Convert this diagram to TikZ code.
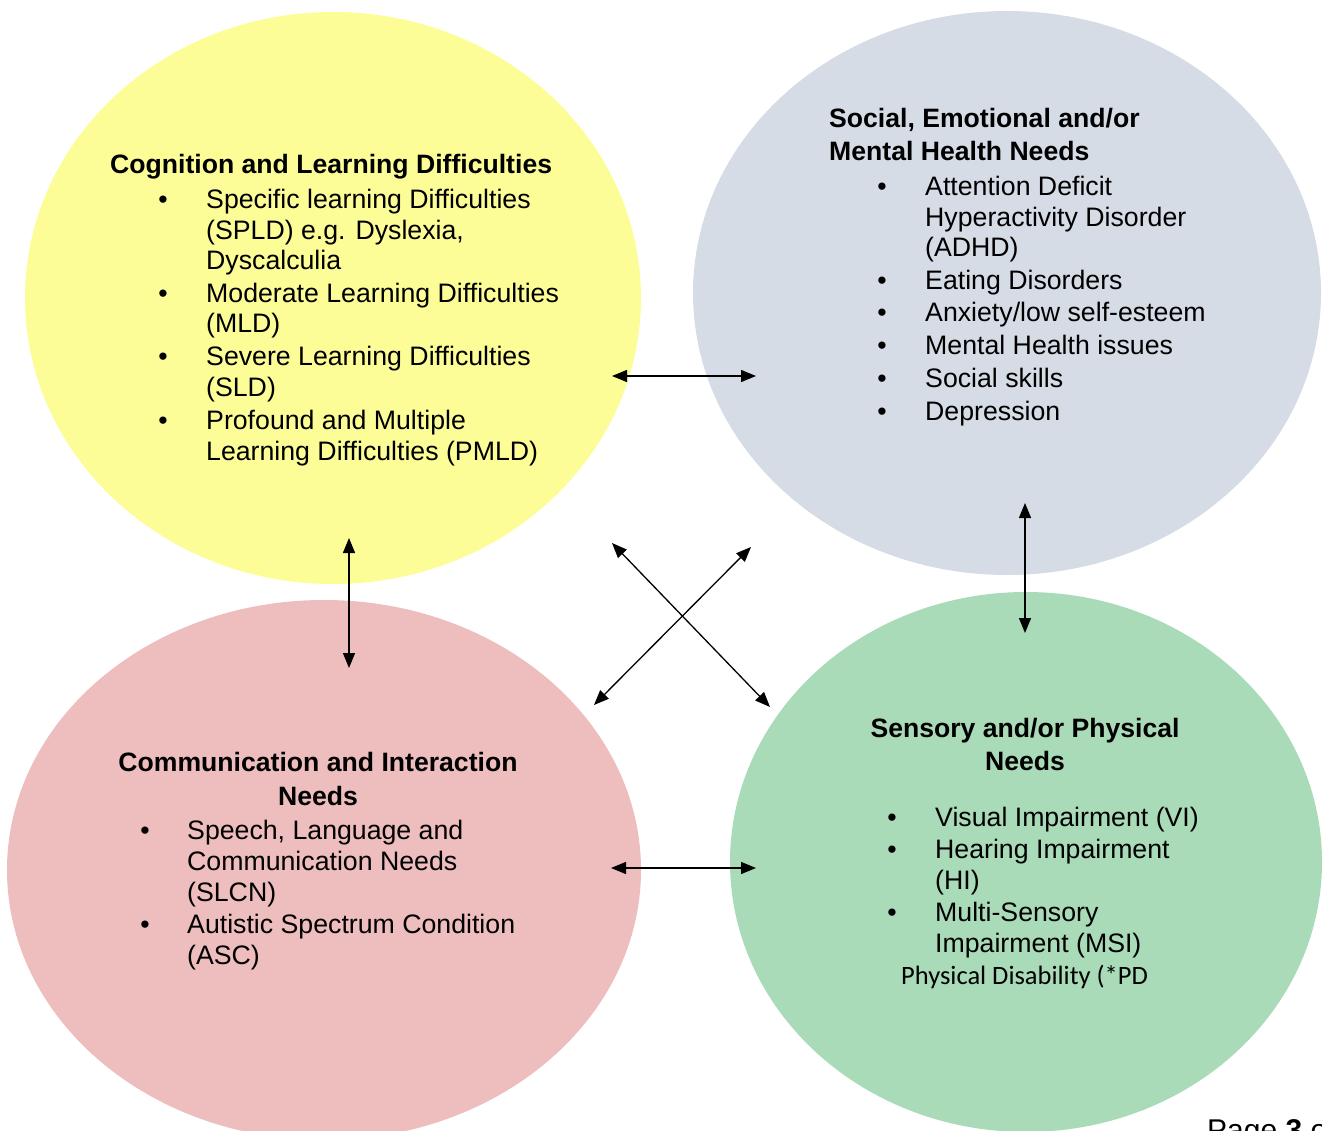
\documentclass[tikz,border=0pt]{standalone}
\usepackage{fontspec}
\setmainfont{Liberation Sans}
\newfontfamily\calib{Carlito}
\usetikzlibrary{shapes.geometric,arrows.meta}
\definecolor{cyellow}{HTML}{FDFD98}
\definecolor{cgray}{HTML}{D6DCE5}
\definecolor{cpink}{HTML}{EEBDBD}
\definecolor{cgreen}{HTML}{A9DBB9}
\tikzset{
  blob/.style={ellipse, draw=none, inner sep=0pt},
  head/.style={font=\fontsize{26.6}{31}\selectfont\bfseries, inner sep=0pt, anchor=base west},
  headc/.style={font=\fontsize{26.6}{31}\selectfont\bfseries, inner sep=0pt, anchor=base},
  itm/.style={font=\fontsize{26.7}{31}\selectfont, inner sep=0pt, anchor=base west},
  bul/.style={font=\fontsize{26.7}{31}\selectfont, inner sep=0pt, anchor=base},
  dbl/.style={line width=1.3pt, {Triangle[length=15pt,width=12pt]}-{Triangle[length=15pt,width=12pt]}}
}
\begin{document}
\begin{tikzpicture}[x=1pt,y=-1pt]
\useasboundingbox (0,0) rectangle (1322,1131);
\clip (0,0) rectangle (1322,1131);
% ellipses
\node[blob, fill=cyellow, minimum width=616pt, minimum height=572pt] (cog) at (333,298) {};
\node[blob, fill=cgray, minimum width=628pt, minimum height=564pt] (sem) at (1007,293) {};
\node[blob, fill=cpink, minimum width=634pt, minimum height=540pt] (com) at (324,870) {};
\node[blob, fill=cgreen, minimum width=592pt, minimum height=540pt] (sen) at (1026,862) {};

% Cognition
\node[head] (cogh) at (110,174) {Cognition and Learning Difficulties};
\node[bul] (cb1) at (163,209) {•};
\node[itm] (c1a) at (206,209) {Specific learning Difficulties};
\node[itm] (c1b) at (206,240) {(SPLD) e.g. Dyslexia,};
\node[itm] (c1c) at (206,270) {Dyscalculia};
\node[bul] (cb2) at (163,303) {•};
\node[itm] (c2a) at (206,303) {Moderate Learning Difficulties};
\node[itm] (c2b) at (206,333) {(MLD)};
\node[bul] (cb3) at (163,366) {•};
\node[itm] (c3a) at (206,366) {Severe Learning Difficulties};
\node[itm] (c3b) at (206,396) {(SLD)};
\node[bul] (cb4) at (163,429) {•};
\node[itm] (c4a) at (206,429) {Profound and Multiple};
\node[itm] (c4b) at (206,460) {Learning Difficulties (PMLD)};

% Social emotional
\node[head] (semh1) at (829,128) {Social, Emotional and/or};
\node[head] (semh2) at (829,161) {Mental Health Needs};
\node[bul] (sb1) at (882,196) {•};
\node[itm] (s1a) at (925,196) {Attention Deficit};
\node[itm] (s1b) at (925,227) {Hyperactivity Disorder};
\node[itm] (s1c) at (925,257) {(ADHD)};
\node[bul] (sb2) at (882,290) {•};
\node[itm] (s2) at (925,290) {Eating Disorders};
\node[bul] (sb3) at (882,322) {•};
\node[itm] (s3) at (925,322) {Anxiety/low self-esteem};
\node[bul] (sb4) at (882,355) {•};
\node[itm] (s4) at (925,355) {Mental Health issues};
\node[bul] (sb5) at (882,387) {•};
\node[itm] (s5) at (925,387) {Social skills};
\node[bul] (sb6) at (882,420) {•};
\node[itm] (s6) at (925,420) {Depression};

% Communication
\node[headc] (comh1) at (318,771) {Communication and Interaction};
\node[headc] (comh2) at (318,805) {Needs};
\node[bul] (mb1) at (145,839) {•};
\node[itm] (m1a) at (187,839) {Speech, Language and};
\node[itm] (m1b) at (187,870) {Communication Needs};
\node[itm] (m1c) at (187,901) {(SLCN)};
\node[bul] (mb2) at (145,933) {•};
\node[itm] (m2a) at (187,933) {Autistic Spectrum Condition};
\node[itm] (m2b) at (187,964) {(ASC)};

% Sensory
\node[headc] (senh1) at (1025,737) {Sensory and/or Physical};
\node[headc] (senh2) at (1025,770) {Needs};
\node[bul] (nb1) at (892,826) {•};
\node[itm] (n1) at (935,826) {Visual Impairment (VI)};
\node[bul] (nb2) at (892,858) {•};
\node[itm] (n2a) at (935,858) {Hearing Impairment};
\node[itm] (n2b) at (935,889) {(HI)};
\node[bul] (nb3) at (892,921) {•};
\node[itm] (n3a) at (935,921) {Multi-Sensory};
\node[itm] (n3b) at (935,952) {Impairment (MSI)};
\node[font=\calib\fontsize{26.5}{31}\selectfont, inner sep=0pt, anchor=base west] (pd) at (901,984) {Physical Disability (*PD};

% page footer
\node[font=\fontsize{30}{34}\selectfont, inner sep=0pt, anchor=base west] (page) at (1207,1140) {Page \textbf{3} o};

% arrow endpoints
\coordinate (h1a) at (612,376); \coordinate (h1b) at (756,376);
\coordinate (v1a) at (349,538); \coordinate (v1b) at (349,668);
\coordinate (v2a) at (1025,503); \coordinate (v2b) at (1025,633);
\coordinate (d1a) at (612,543); \coordinate (d1b) at (770,707);
\coordinate (d2a) at (751,547); \coordinate (d2b) at (594,705);
\coordinate (h2a) at (611,868); \coordinate (h2b) at (756,868);

\draw[dbl] (h1a) -- (h1b);
\draw[dbl] (v1a) -- (v1b);
\draw[dbl] (v2a) -- (v2b);
\draw[dbl] (d1a) -- (d1b);
\draw[dbl] (d2a) -- (d2b);
\draw[dbl] (h2a) -- (h2b);
\end{tikzpicture}
\end{document}
